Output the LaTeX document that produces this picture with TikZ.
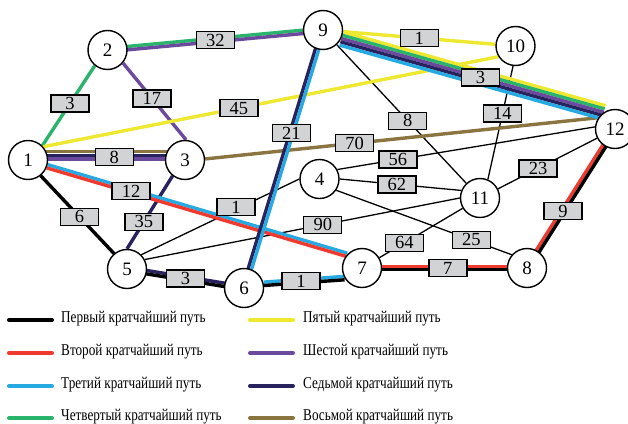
\documentclass[tikz,border=0pt]{standalone}
\usepackage{fontspec}
\setmainfont{Liberation Serif}
\newfontfamily\legendfont[FakeStretch=0.80]{Liberation Serif}
\usetikzlibrary{calc,backgrounds}

\definecolor{pathblack}{HTML}{000000}
\definecolor{pathred}{HTML}{EE3A2F}
\definecolor{pathcyan}{HTML}{27AAE1}
\definecolor{pathgreen}{HTML}{2AB36B}
\definecolor{pathyellow}{HTML}{EEE830}
\definecolor{pathpurple}{HTML}{6B4A9E}
\definecolor{pathnavy}{HTML}{28235F}
\definecolor{pathbrown}{HTML}{8A7440}
\definecolor{boxgrey}{HTML}{D1D3D4}

% one coloured strand of a route, shifted sideways by #3
\newcommand{\routeline}[4]{%
  \draw[route, #4] ($(#1)!#3!90:(#2)$) -- ($(#2)!#3!-90:(#1)$);
}

\begin{document}
\begin{tikzpicture}[x=1pt, y=-1pt,
    vertex/.style={circle, draw, line width=1.4pt, fill=white, minimum size=39pt,
                   inner sep=0pt, font=\fontsize{19}{19}\selectfont},
    weight/.style={rectangle, draw, line width=1.4pt, fill=boxgrey, minimum width=38pt,
                   minimum height=17pt, inner sep=0pt, font=\fontsize{18.5}{18}\selectfont},
    route/.style={line width=3.4pt},
    link/.style={line width=1.3pt},
    legline/.style={line width=4pt, line cap=round},
    legtext/.style={anchor=west, inner sep=0pt, font=\legendfont\fontsize{16.5}{16}\selectfont}]

    \useasboundingbox (0,0) rectangle (628,423);

    % Vertices
    \node[vertex] (n1) at (28,160) {1};
    \node[vertex] (n2) at (107.5,50) {2};
    \node[vertex] (n3) at (185,160) {3};
    \node[vertex] (n4) at (319.5,179) {4};
    \node[vertex] (n5) at (127,269) {5};
    \node[vertex] (n6) at (244,288) {6};
    \node[vertex] (n7) at (362,268) {7};
    \node[vertex] (n8) at (527,268) {8};
    \node[vertex] (n9) at (323,30) {9};
    \node[vertex] (n10) at (515.5,46) {10};
    \node[vertex] (n11) at (480,198) {11};
    \node[vertex] (n12) at (615,129) {12};

    \begin{pgfonlayer}{background}
        % Plain links
        \draw[link] (n5.45) -- (n4.west);
        \draw[link] (n5.28) -- (n11.west);
        \draw[link] (n9) -- (n11);
        \draw[link] (n10.-97) -- (n11.67);
        \draw[link] (n4.28) -- (n12.174);
        \draw[link] (n4.east) -- (n11.158);
        \draw[link] (n4.-34) -- (n8.139);
        \draw[link] (n7) -- (n11);
        \draw[link] (n11) -- (n12);

        % Shortest paths
        \draw[route, pathgreen] (n1.45) -- (n2.231);
        \routeline{n2}{n9}{1.7pt}{pathgreen}
        \routeline{n2}{n9}{-1.7pt}{pathpurple}
        \draw[route, pathpurple] (n2.-40) -- (n3.87);
        \routeline{n1}{n3}{8.5pt}{pathbrown}
        \routeline{n1}{n3}{4.6pt}{pathnavy}
        \routeline{n1}{n3}{1.2pt}{pathpurple}
        \draw[route, pathyellow] (n1.41) -- (n10.212);
        \draw[route, pathbrown] (n3.3) -- (n12.146);
        \draw[route, pathblack] (n1.-51) -- (n5.130);
        \draw[route, pathnavy] (n3.-128) -- (n5.north);
        \routeline{n5}{n6}{1.7pt}{pathnavy}
        \routeline{n5}{n6}{-1.7pt}{pathblack}
        \routeline{n6.12}{n7.210}{1.7pt}{pathcyan}
        \routeline{n6.12}{n7.210}{-1.7pt}{pathblack}
        \routeline{n1.-18}{n7.139}{1.7pt}{pathcyan}
        \routeline{n1.-18}{n7.139}{-1.7pt}{pathred}
        \routeline{n7}{n8}{1.7pt}{pathred}
        \routeline{n7}{n8}{-1.7pt}{pathblack}
        \routeline{n8}{n12}{1.7pt}{pathred}
        \routeline{n8}{n12}{-1.7pt}{pathblack}
        \draw[route, pathyellow] (n9) -- (n10);
        \routeline{n6}{n9}{1.7pt}{pathnavy}
        \routeline{n6}{n9}{-1.7pt}{pathcyan}

        % Five routes share 9-12
        \routeline{n9.-25}{n12.124}{6.8pt}{pathyellow}
        \routeline{n9.-25}{n12.124}{3.4pt}{pathgreen}
        \routeline{n9.-25}{n12.124}{0pt}{pathpurple}
        \routeline{n9.-25}{n12.124}{-3.4pt}{pathnavy}
        \routeline{n9.-25}{n12.124}{-6.8pt}{pathcyan}
    \end{pgfonlayer}

    % Weights
    \path (n1.45) -- node[weight, pos=.53] (w1) {3} (n2.231);
    \path (n2.center) -- node[weight, pos=.5] (w2) {32} (n9.center);
    \path (n2.-40) -- node[weight, pos=.46] (w3) {17} (n3.87);
    \path (n1.center) -- node[weight, pos=.55, yshift=3pt] (w4) {8} (n3.center);
    \path (n1.41) -- node[weight, pos=.43] (w5) {45} (n10.212);
    \path (n3.3) -- node[weight, pos=.38] (w6) {70} (n12.146);
    \path (n1.-18) -- node[weight, pos=.28] (w7) {12} (n7.139);
    \path (n1.-51) -- node[weight, pos=.53] (w8) {6} (n5.130);
    \path (n3.-128) -- node[weight, pos=.63] (w9) {35} (n5.north);
    \path (n5.45) -- node[weight, pos=.6, yshift=2pt] (w10) {1} (n4.west);
    \path (n5.28) -- node[weight, pos=.565] (w11) {90} (n11.west);
    \path (n5.center) -- node[weight, pos=.5] (w12) {3} (n6.center);
    \path (n6.12) -- node[weight, pos=.46] (w13) {1} (n7.210);
    \path (n6.center) -- node[weight, pos=.6] (w14) {21} (n9.center);
    \path (n7.center) -- node[weight, pos=.52] (w15) {7} (n8.center);
    \path (n8.center) -- node[weight, pos=.41] (w16) {9} (n12.center);
    \path (n9.center) -- node[weight, pos=.5] (w17) {1} (n10.center);
    \path (n9.-25) -- node[weight, pos=.53] (w18) {3} (n12.124);
    \path (n9.center) -- node[weight, pos=.54] (w19) {8} (n11.center);
    \path (n10.-97) -- node[weight, pos=.42] (w20) {14} (n11.67);
    \path (n4.28) -- node[weight, pos=.235] (w21) {56} (n12.174);
    \path (n4.east) -- node[weight, pos=.47] (w22) {62} (n11.158);
    \path (n4.-34) -- node[weight, pos=.77] (w23) {25} (n8.139);
    \path (n7.center) -- node[weight, pos=.36] (w24) {64} (n11.center);
    \path (n11.center) -- node[weight, pos=.43] (w25) {23} (n12.center);

    % Legend
    \foreach \y/\col/\txt [count=\i] in {320/pathblack/Первый кратчайший путь,
            353/pathred/Второй кратчайший путь, 386/pathcyan/Третий кратчайший путь,
            418/pathgreen/Четвертый кратчайший путь} {
        \draw[legline, \col] (9,\y) -- (52,\y);
        \node[legtext] (legl\i) at (61,\y-1) {\txt};
    }
    \foreach \y/\col/\txt [count=\i] in {320/pathyellow/Пятый кратчайший путь,
            353/pathpurple/Шестой кратчайший путь, 386/pathnavy/Седьмой кратчайший путь,
            418/pathbrown/Восьмой кратчайший путь} {
        \draw[legline, \col] (250,\y) -- (293,\y);
        \node[legtext] (legr\i) at (303,\y-1) {\txt};
    }
\end{tikzpicture}
\end{document}
